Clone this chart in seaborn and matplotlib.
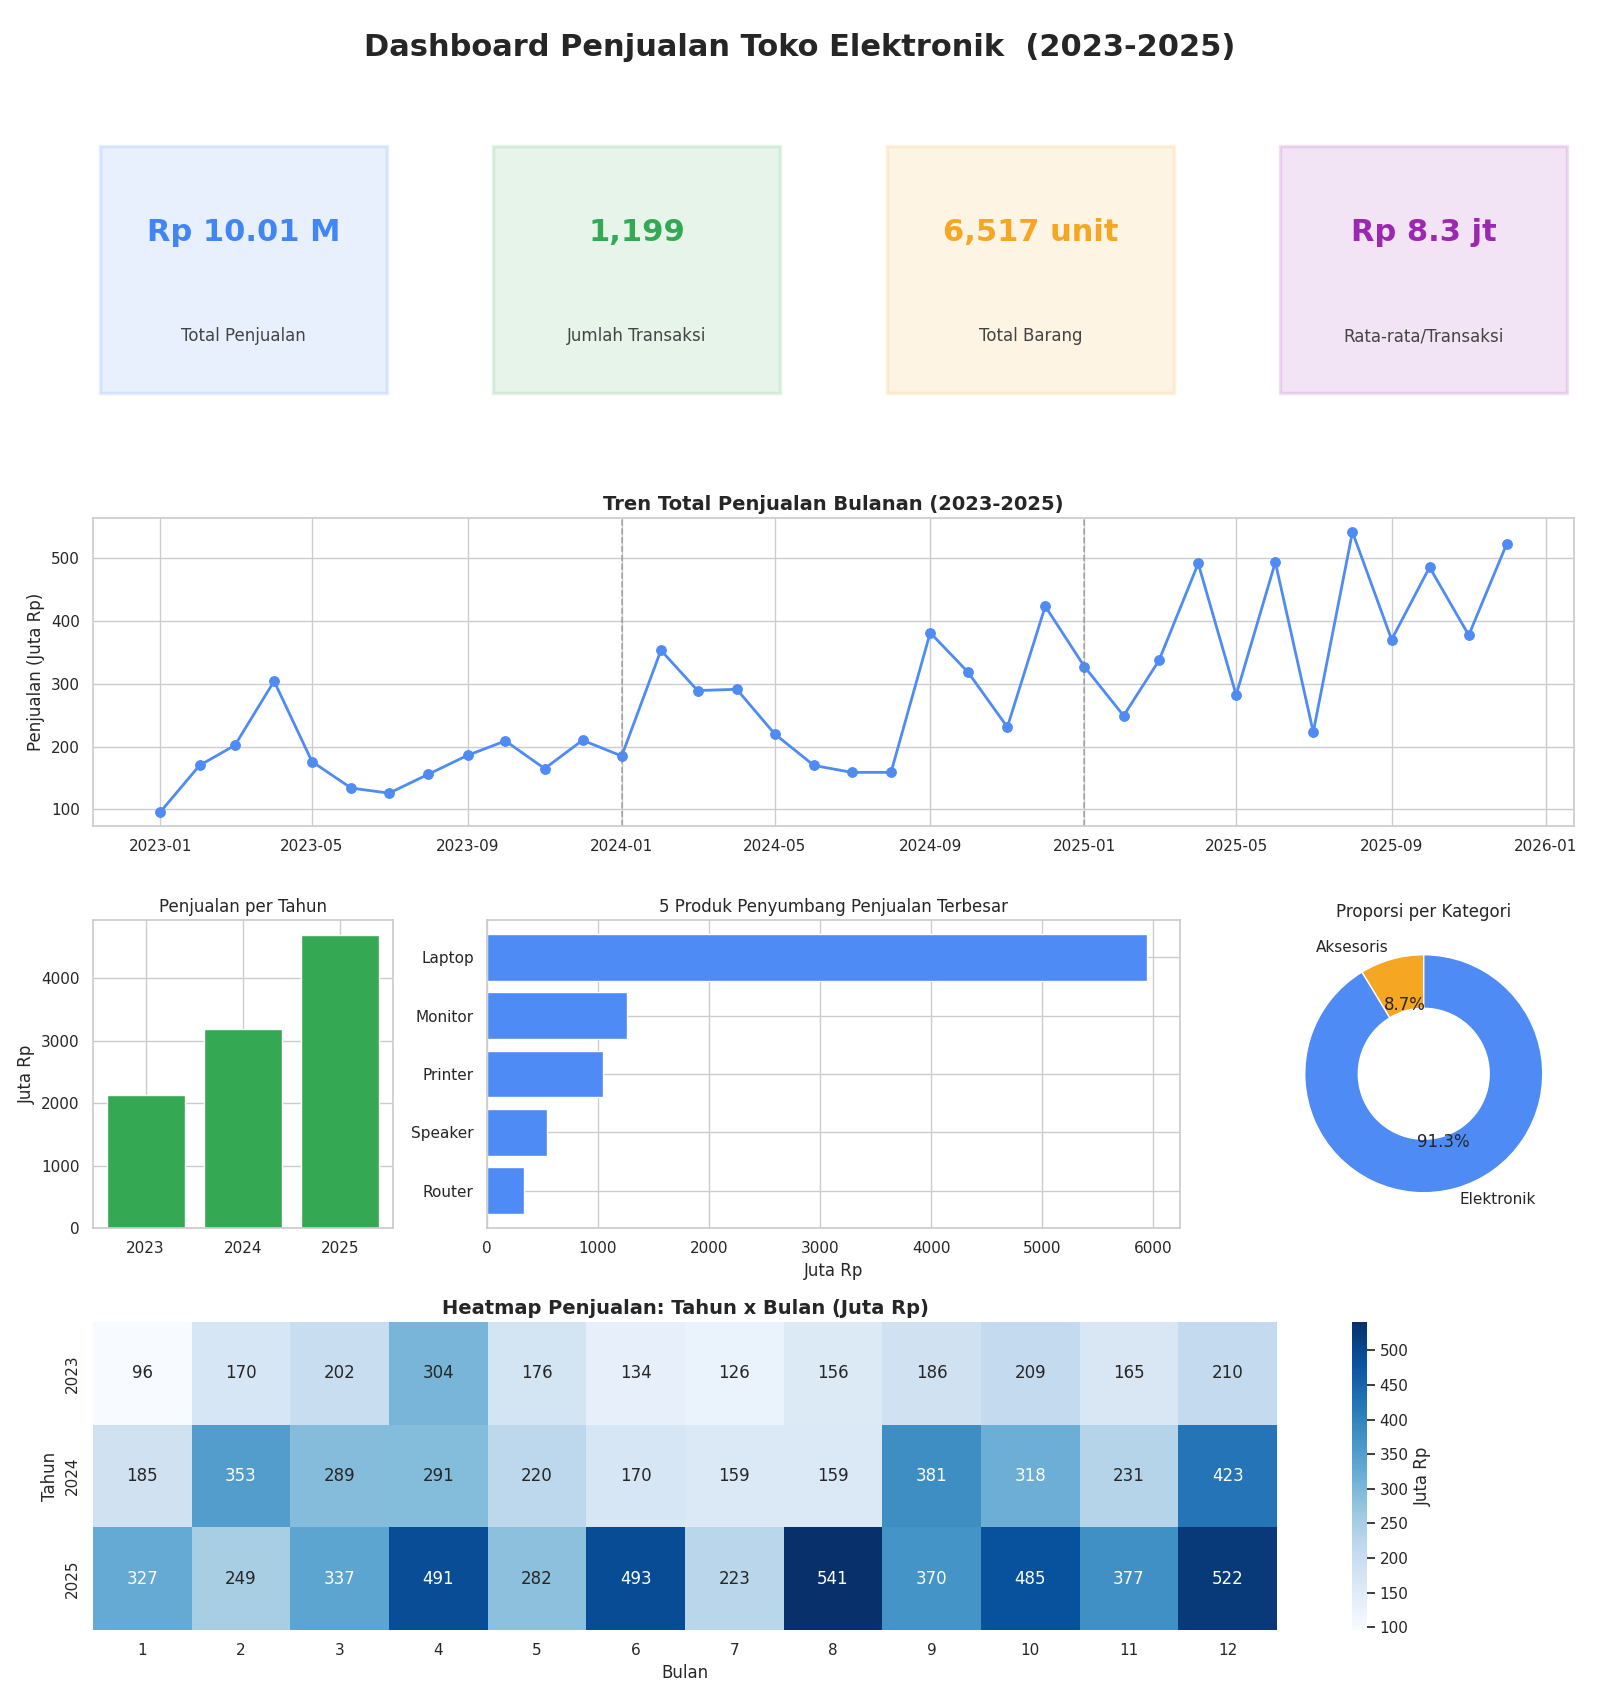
import numpy as np
import pandas as pd
import matplotlib
matplotlib.use("Agg")
import matplotlib.pyplot as plt
import seaborn as sns
from matplotlib.patches import Rectangle
from matplotlib.colors import to_rgba

# ---------------- data ----------------
years = [2023, 2024, 2025]
months = list(range(1, 13))
sales_2023 = [96, 170, 202, 304, 176, 134, 126, 156, 186, 209, 165, 210]
sales_2024 = [185, 353, 289, 291, 220, 170, 159, 159, 381, 318, 231, 423]
sales_2025 = [327, 249, 337, 491, 282, 493, 223, 541, 370, 485, 377, 522]

products = ["Laptop", "Monitor", "Printer", "Speaker", "Router"]
product_sales = [5945, 1260, 1044, 538, 331]

categories = ["Aksesoris", "Elektronik"]
category_share = [8.7, 91.3]

n_transactions = 1199
n_units = 6517
kpi_labels = ["Total Penjualan", "Jumlah Transaksi", "Total Barang", "Rata-rata/Transaksi"]

# ---------------- style ----------------
BLUE = "#4285F4"
BLUE_MARK = "#4E8BF5"
GREEN = "#34A853"
ORANGE = "#F5A623"
PURPLE = "#9C27B0"

sns.set_theme(style="whitegrid")
plt.rcParams["font.family"] = ["DejaVu Sans"]

W, H = 1600, 1700
fig = plt.figure(figsize=(16, 17), dpi=100)


def box(left, top, width, height):
    return [left / W, 1 - (top + height) / H, width / W, height / H]


fig.text(0.5, 1 - 47 / H, "Dashboard Penjualan Toko Elektronik  (2023-2025)",
         ha="center", va="center", fontsize=22, fontweight="bold", color="#262626")

# ---------------- KPI cards ----------------
all_sales = sales_2023 + sales_2024 + sales_2025
total_juta = sum(all_sales)
kpi_values = [
    f"Rp {total_juta / 1000:.2f} M",
    f"{n_transactions:,}",
    f"{n_units:,} unit",
    f"Rp {total_juta / n_transactions:.1f} jt",
]
kpi_colors = [BLUE, GREEN, ORANGE, PURPLE]
card_lefts = [100, 493, 887, 1280]
for left, val, lab, col in zip(card_lefts, kpi_values, kpi_labels, kpi_colors):
    axc = fig.add_axes(box(left, 146, 287, 247))
    axc.axis("off")
    axc.add_patch(Rectangle((0, 0), 1, 1, transform=axc.transAxes,
                            facecolor=to_rgba(col, 0.12), edgecolor=to_rgba(col, 0.14),
                            linewidth=2.5, clip_on=False))
    axc.text(0.5, 0.65, val, ha="center", va="center", fontsize=22,
             fontweight="bold", color=col, transform=axc.transAxes)
    axc.text(0.5, 0.23, lab, ha="center", va="center", fontsize=12,
             color="#444444", transform=axc.transAxes)

# ---------------- monthly trend ----------------
dates = pd.date_range("2023-01-01", periods=len(all_sales), freq="MS")
df_line = pd.DataFrame({"Tanggal": dates, "Penjualan": all_sales})
ax1 = fig.add_axes(box(93, 518, 1481, 308))
sns.lineplot(data=df_line, x="Tanggal", y="Penjualan", marker="o", color=BLUE_MARK,
             linewidth=2, markersize=7, markeredgecolor=BLUE_MARK, ax=ax1)
for y in years[1:]:
    ax1.axvline(pd.Timestamp(f"{y}-01-01"), color="gray", linestyle="--", alpha=0.6, linewidth=1.2)
ax1.set_title("Tren Total Penjualan Bulanan (2023-2025)", fontsize=14, fontweight="bold")
ax1.set_xlabel("")
ax1.set_ylabel("Penjualan (Juta Rp)")

# ---------------- yearly bars ----------------
df_year = pd.DataFrame({"Tahun": [str(y) for y in years],
                        "Total": [sum(sales_2023), sum(sales_2024), sum(sales_2025)]})
ax2 = fig.add_axes(box(93, 920, 300, 308))
sns.barplot(data=df_year, x="Tahun", y="Total", color=GREEN, saturation=1, ax=ax2)
ax2.set_xlim(-0.54, 2.54)
ax2.xaxis.grid(True)
ax2.set_axisbelow(True)
ax2.set_title("Penjualan per Tahun")
ax2.set_xlabel("")
ax2.set_ylabel("Juta Rp")

# ---------------- top products ----------------
df_prod = pd.DataFrame({"Produk": products, "Penjualan": product_sales})
ax3 = fig.add_axes(box(487, 920, 693, 308))
sns.barplot(data=df_prod, y="Produk", x="Penjualan", color=BLUE_MARK, saturation=1,
            orient="h", ax=ax3)
ax3.set_ylim(4.64, -0.64)
ax3.yaxis.grid(True)
ax3.set_axisbelow(True)
ax3.set_title("5 Produk Penyumbang Penjualan Terbesar")
ax3.set_xlabel("Juta Rp")
ax3.set_ylabel("")

# ---------------- category donut ----------------
ax4 = fig.add_axes(box(1275, 925, 297.5, 297.5))
ax4.pie(category_share, labels=categories, colors=[ORANGE, BLUE_MARK], autopct="%1.1f%%",
        startangle=90, wedgeprops=dict(width=0.45, edgecolor="white"))
ax4.set_title("Proporsi per Kategori")

# ---------------- heatmap ----------------
df_heat = pd.DataFrame([sales_2023, sales_2024, sales_2025], index=years, columns=months)
ax5 = fig.add_axes(box(93, 1322, 1184, 308))
cax = fig.add_axes(box(1352, 1322, 14.5, 308))
sns.heatmap(df_heat, annot=True, fmt="d", cmap="Blues", ax=ax5, cbar_ax=cax,
            cbar_kws={"label": "Juta Rp"})
ax5.set_title("Heatmap Penjualan: Tahun x Bulan (Juta Rp)", fontsize=14, fontweight="bold")
ax5.set_xlabel("Bulan")
ax5.set_ylabel("Tahun")

fig.savefig("out.png", dpi=100)
